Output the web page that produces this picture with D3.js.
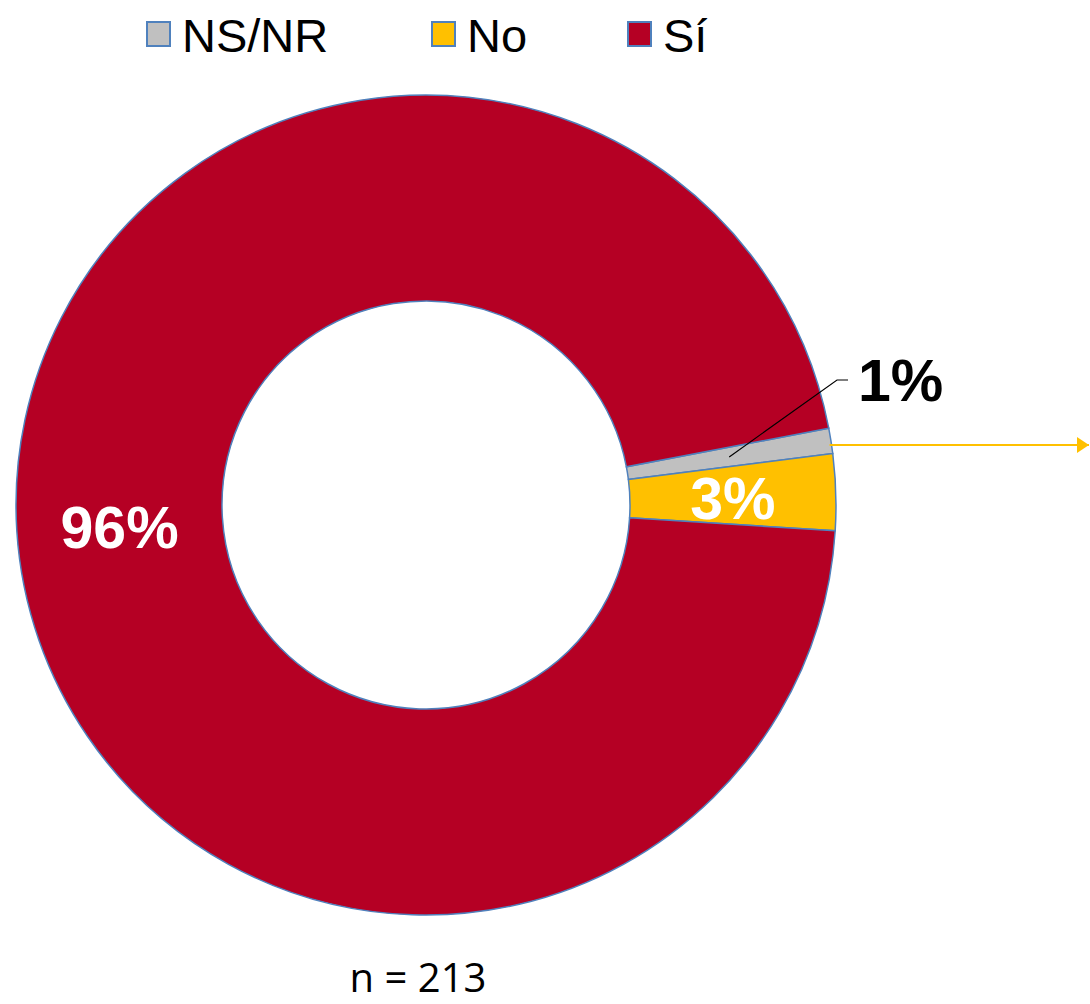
<!DOCTYPE html>
<html>
<head>
<meta charset="utf-8">
<script src="https://cdn.jsdelivr.net/npm/d3@7"></script>
<style>
  body { margin: 0; background: #fff; }
  svg { display: block; }
</style>
</head>
<body>
<script>
// data
var categories = ["NS/NR", "No", "Sí"];
var values = [1, 3, 96];
var labels = ["1%", "3%", "96%"];
var colors = ["#C0C0C0", "#FFC000", "#B50024"];
var sampleText = "n = 213";

var width = 1090, height = 1004;
var cx = 426, cy = 505, outerR = 410, innerR = 204;

var svg = d3.select("body").append("svg")
    .attr("width", width)
    .attr("height", height);

var color = d3.scaleOrdinal().domain(categories).range(colors);

// legend
var legendX = [147, 432, 628];
var legend = svg.append("g").attr("class", "legend");
categories.forEach(function(c, i) {
  legend.append("rect")
    .attr("x", legendX[i])
    .attr("y", 22)
    .attr("width", 23)
    .attr("height", 24)
    .attr("fill", color(c))
    .attr("stroke", "#4F81BD")
    .attr("stroke-width", 2);
  legend.append("text")
    .attr("x", legendX[i] + 35)
    .attr("y", 52)
    .style("font-family", "Liberation Sans, Arial, sans-serif")
    .style("font-size", "47px")
    .attr("fill", "#000")
    .text(c);
});

// donut
var pie = d3.pie()
    .sort(null)
    .value(function(d) { return d; })
    .startAngle(79.2 * Math.PI / 180)
    .endAngle(79.2 * Math.PI / 180 + 2 * Math.PI);

var arcs = pie(values);

var arc = d3.arc().innerRadius(innerR).outerRadius(outerR);
var midArc = d3.arc().innerRadius(307).outerRadius(307);

var g = svg.append("g").attr("transform", "translate(" + cx + "," + cy + ")");

g.selectAll("path.slice")
  .data(arcs)
  .enter()
  .append("path")
    .attr("class", "slice")
    .attr("d", arc)
    .attr("fill", function(d, i) { return color(categories[i]); })
    .attr("stroke", "#4F81BD")
    .attr("stroke-width", 1.5);

// labels inside slices (No, Sí)
g.selectAll("text.inlabel")
  .data(arcs.slice(1))
  .enter()
  .append("text")
    .attr("class", "inlabel")
    .attr("transform", function(d) {
      var c = midArc.centroid(d);
      return "translate(" + c[0] + "," + (c[1] + 4) + ")";
    })
    .attr("text-anchor", "middle")
    .attr("dominant-baseline", "central")
    .style("font-family", "Liberation Sans, Arial, sans-serif")
    .style("font-weight", "bold")
    .style("font-size", "59px")
    .attr("fill", "#fff")
    .text(function(d, i) { return labels[i + 1]; });

// NS/NR label outside with leader line
var p0 = midArc.centroid(arcs[0]);
var bend = [411, -125];
var lineEnd = [422, -125];
g.append("polyline")
  .attr("points", [p0, bend, lineEnd].map(function(p) { return p.join(","); }).join(" "))
  .attr("fill", "none")
  .attr("stroke", "#000")
  .attr("stroke-width", 1.2);
g.append("text")
  .attr("x", lineEnd[0] + 10)
  .attr("y", lineEnd[1] + 1)
  .attr("dominant-baseline", "central")
  .style("font-family", "Liberation Sans, Arial, sans-serif")
  .style("font-weight", "bold")
  .style("font-size", "59px")
  .attr("fill", "#000")
  .text(labels[0]);

// yellow arrow
svg.append("defs").append("marker")
  .attr("id", "arrow")
  .attr("viewBox", "0 0 10 10")
  .attr("preserveAspectRatio", "none")
  .attr("refX", 10)
  .attr("refY", 5)
  .attr("markerWidth", 6)
  .attr("markerHeight", 8)
  .attr("markerUnits", "strokeWidth")
  .attr("orient", "auto")
  .append("path")
    .attr("d", "M0,0 L10,5 L0,10 Z")
    .attr("fill", "#FFC000");

var ay = -60;
var ax = Math.sqrt(outerR * outerR - ay * ay);
g.append("line")
  .attr("x1", ax - 2)
  .attr("y1", ay)
  .attr("x2", width - cx - 1)
  .attr("y2", ay)
  .attr("stroke", "#FFC000")
  .attr("stroke-width", 2)
  .attr("marker-end", "url(#arrow)");

// sample size
svg.append("text")
  .attr("x", 418)
  .attr("y", 992)
  .attr("text-anchor", "middle")
  .style("font-family", "Open Sans, Lato, sans-serif")
  .style("font-size", "40px")
  .attr("fill", "#000")
  .text(sampleText);
</script>
</body>
</html>
